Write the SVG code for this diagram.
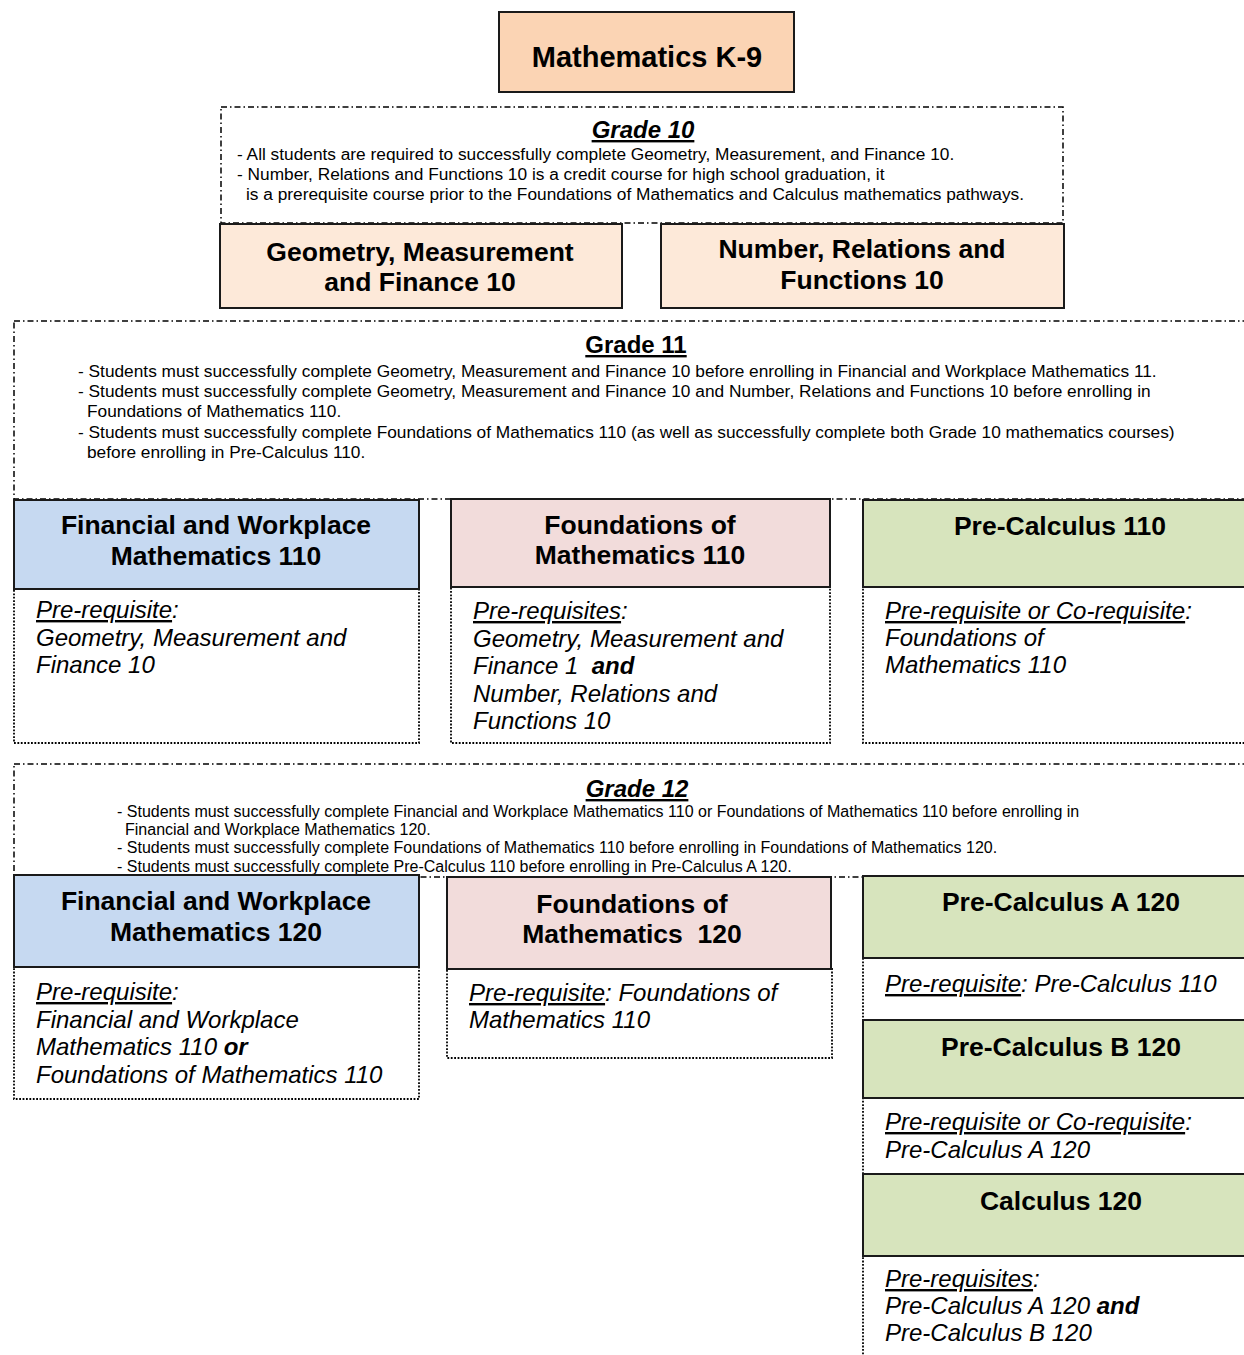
<svg xmlns="http://www.w3.org/2000/svg" width="1244" height="1355" viewBox="0 0 1244 1355">
<style>
text{font-family:"Liberation Sans",Arial,sans-serif;fill:#000}
.dd{fill:none;stroke:#000;stroke-width:1.5;stroke-dasharray:6 3 1.5 3}
.dot{fill:none;stroke:#000;stroke-width:1.8;stroke-dasharray:1.8 1.6}
.hd{stroke:#1a1a1a;stroke-width:2}
.peach{fill:#fbd4b4}.lpeach{fill:#fde9d9}.blue{fill:#c6d9f1}.pink{fill:#f2dcdb}.green{fill:#d7e4bd}
.ht{font-size:26.5px;font-weight:bold;text-anchor:middle}
.gt{font-size:24px;font-weight:bold;text-anchor:middle;text-decoration:underline}
.b17{font-size:17.3px}
.b16{font-size:16px}
.pr{font-size:24px;font-style:italic}
.u{text-decoration:underline}
.bo{font-weight:bold}
</style>
<rect width="1244" height="1355" fill="#fff"/>
<g id="connectors"/>

<g id="k9">
<rect class="peach hd" x="499" y="12" width="295" height="80"/>
<text x="647" y="67" style="font-size:29px;font-weight:bold;text-anchor:middle">Mathematics K-9</text>
</g>

<g id="grade10">
<rect class="dd" x="221" y="107" width="842" height="116"/>
<text class="gt" x="643" y="138" font-style="italic">Grade 10</text>
<text class="b17" x="237" y="160">- All students are required to successfully complete Geometry, Measurement, and Finance 10.</text>
<text class="b17" x="237" y="180">- Number, Relations and Functions 10 is a credit course for high school graduation, it</text>
<text class="b17" x="246" y="200">is a prerequisite course prior to the Foundations of Mathematics and Calculus mathematics pathways.</text>
</g>

<g id="gmf10">
<rect class="lpeach hd" x="220" y="224" width="402" height="84"/>
<text class="ht" x="420" y="261">Geometry, Measurement</text>
<text class="ht" x="420" y="291">and Finance 10</text>
</g>

<g id="nrf10">
<rect class="lpeach hd" x="661" y="224" width="403" height="84"/>
<text class="ht" x="862" y="258">Number, Relations and</text>
<text class="ht" x="862" y="289">Functions 10</text>
</g>

<g id="grade11">
<rect class="dd" x="14" y="321" width="1250" height="178"/>
<text class="gt" x="636" y="353">Grade 11</text>
<text class="b17" x="78" y="377">- Students must successfully complete Geometry, Measurement and Finance 10 before enrolling in Financial and Workplace Mathematics 11.</text>
<text class="b17" x="78" y="397">- Students must successfully complete Geometry, Measurement and Finance 10 and Number, Relations and Functions 10 before enrolling in</text>
<text class="b17" x="87" y="417">Foundations of Mathematics 110.</text>
<text class="b17" x="78" y="438">- Students must successfully complete Foundations of Mathematics 110 (as well as successfully complete both Grade 10 mathematics courses)</text>
<text class="b17" x="87" y="458">before enrolling in Pre-Calculus 110.</text>
</g>

<g id="fwm110">
<rect class="dot" x="14" y="589" width="405" height="154"/>
<rect class="blue hd" x="14" y="500" width="405" height="89"/>
<text class="ht" x="216" y="534">Financial and Workplace</text>
<text class="ht" x="216" y="565">Mathematics 110</text>
<text class="pr" x="36" y="618"><tspan class="u">Pre-requisite</tspan>:</text>
<text class="pr" x="36" y="646">Geometry, Measurement and</text>
<text class="pr" x="36" y="673">Finance 10</text>
</g>

<g id="fm110">
<rect class="dot" x="451" y="587" width="379" height="156"/>
<rect class="pink hd" x="451" y="499" width="379" height="88"/>
<text class="ht" x="640" y="534">Foundations of</text>
<text class="ht" x="640" y="564">Mathematics 110</text>
<text class="pr" x="473" y="619"><tspan class="u">Pre-requisites</tspan>:</text>
<text class="pr" x="473" y="647">Geometry, Measurement and</text>
<text class="pr" x="473" y="674" xml:space="preserve">Finance 1  <tspan class="bo">and</tspan></text>
<text class="pr" x="473" y="702">Number, Relations and</text>
<text class="pr" x="473" y="729">Functions 10</text>
</g>

<g id="pc110">
<rect class="dot" x="863" y="587" width="400" height="156"/>
<rect class="green hd" x="863" y="500" width="400" height="87"/>
<text class="ht" x="1060" y="535">Pre-Calculus 110</text>
<text class="pr" x="885" y="619"><tspan class="u">Pre-requisite or Co-requisite</tspan>:</text>
<text class="pr" x="885" y="646">Foundations of</text>
<text class="pr" x="885" y="673">Mathematics 110</text>
</g>

<g id="grade12">
<rect class="dd" x="14" y="764" width="1250" height="113"/>
<text class="gt" x="637" y="797" font-style="italic">Grade 12</text>
<text class="b16" x="117" y="817">- Students must successfully complete Financial and Workplace Mathematics 110 or Foundations of Mathematics 110 before enrolling in</text>
<text class="b16" x="125" y="835">Financial and Workplace Mathematics 120.</text>
<text class="b16" x="117" y="853">- Students must successfully complete Foundations of Mathematics 110 before enrolling in Foundations of Mathematics 120.</text>
<text class="b16" x="117" y="872">- Students must successfully complete Pre-Calculus 110 before enrolling in Pre-Calculus A 120.</text>
</g>

<g id="fwm120">
<rect class="dot" x="14" y="967" width="405" height="132"/>
<rect class="blue hd" x="14" y="875" width="405" height="92"/>
<text class="ht" x="216" y="910">Financial and Workplace</text>
<text class="ht" x="216" y="941">Mathematics 120</text>
<text class="pr" x="36" y="1000"><tspan class="u">Pre-requisite</tspan>:</text>
<text class="pr" x="36" y="1028">Financial and Workplace</text>
<text class="pr" x="36" y="1055">Mathematics 110 <tspan class="bo">or</tspan></text>
<text class="pr" x="36" y="1083">Foundations of Mathematics 110</text>
</g>

<g id="fm120">
<rect class="dot" x="447" y="969" width="385" height="89"/>
<rect class="pink hd" x="447" y="877" width="384" height="92"/>
<text class="ht" x="632" y="913">Foundations of</text>
<text class="ht" x="632" y="943" xml:space="preserve">Mathematics  120</text>
<text class="pr" x="469" y="1001"><tspan class="u">Pre-requisite</tspan>: Foundations of</text>
<text class="pr" x="469" y="1028">Mathematics 110</text>
</g>

<g id="pc-dotline">
<line class="dot" x1="863" y1="958" x2="863" y2="1355"/>
</g>

<g id="pca120">
<rect class="green hd" x="863" y="876" width="400" height="82"/>
<text class="ht" x="1061" y="911">Pre-Calculus A 120</text>
<text class="pr" x="885" y="992"><tspan class="u">Pre-requisite</tspan>: Pre-Calculus 110</text>
</g>

<g id="pcb120">
<rect class="green hd" x="863" y="1020" width="400" height="78"/>
<text class="ht" x="1061" y="1056">Pre-Calculus B 120</text>
<text class="pr" x="885" y="1130"><tspan class="u">Pre-requisite or Co-requisite</tspan>:</text>
<text class="pr" x="885" y="1158">Pre-Calculus A 120</text>
</g>

<g id="calc120">
<rect class="green hd" x="863" y="1174" width="400" height="82"/>
<text class="ht" x="1061" y="1210">Calculus 120</text>
<text class="pr" x="885" y="1287"><tspan class="u">Pre-requisites</tspan>:</text>
<text class="pr" x="885" y="1314">Pre-Calculus A 120 <tspan class="bo">and</tspan></text>
<text class="pr" x="885" y="1341">Pre-Calculus B 120</text>
</g>
</svg>
